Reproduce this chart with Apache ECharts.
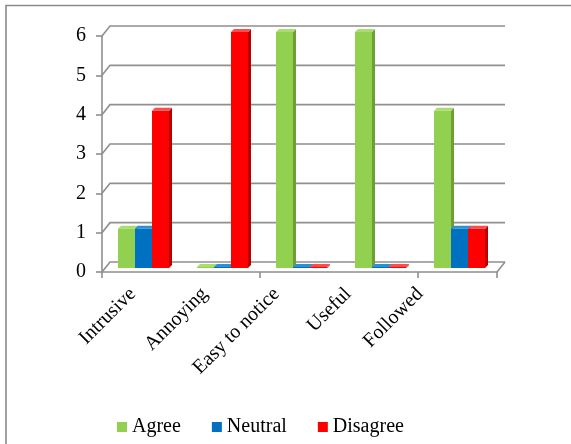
<!DOCTYPE html>
<html>
<head>
<meta charset="utf-8">
<script src="https://cdn.jsdelivr.net/npm/echarts@6/dist/echarts.min.js"></script>
<style>
  html, body { margin: 0; padding: 0; background: #fff; }
  #chart { width: 571px; height: 444px; }
</style>
</head>
<body>
<div id="chart"></div>
<script>
// Survey responses per statement
const categories = ['Intrusive', 'Annoying', 'Easy to notice', 'Useful', 'Followed'];
const seriesNames = ['Agree', 'Neutral', 'Disagree'];
const agree    = [1, 0, 6, 6, 4];
const neutral  = [1, 0, 0, 0, 1];
const disagree = [4, 6, 0, 0, 1];
const yTicks   = [0, 1, 2, 3, 4, 5, 6];

const serif = '"Liberation Serif", "Times New Roman", serif';
const gridColor = '#8f8f8f';

// pseudo-3D geometry
const DEPTH_X = 8, DEPTH_Y = 10;   // back wall offset from the front axes
const MID_X = 2, MID_Y = 4;        // bars stand halfway into the depth
const BAR_W = 17, BAR_D = 3;       // bar face width and its own thickness

const palettes = [
  { face: '#92D050', side: '#6e9e36', top: '#a9dd70' },
  { face: '#0070C0', side: '#004f8a', top: '#2f8fd4' },
  { face: '#FF0000', side: '#b80000', top: '#ff4d4d' }
];

// back wall: one slanted stub + horizontal gridline per tick, plus the floor edge
function renderWall(params, api) {
  const cs = params.coordSys;
  const v = api.value(1);
  const y = api.coord([0, v])[1];
  const x0 = cs.x, x1 = cs.x + cs.width;
  const style = { stroke: gridColor, lineWidth: 1.6, fill: null };
  const children = [{
    type: 'polyline',
    shape: { points: [[x0, y], [x0 + DEPTH_X, y - DEPTH_Y], [x1 + DEPTH_X, y - DEPTH_Y]] },
    style: style
  }];
  if (v === 0) {
    children.push({
      type: 'line',
      shape: { x1: x1, y1: y, x2: x1 + DEPTH_X, y2: y - DEPTH_Y },
      style: style
    });
  }
  return { type: 'group', children: children };
}

// a bar with a front face, a shaded right side and a lit top
function makeBarRenderer(k) {
  const pal = palettes[k];
  return function (params, api) {
    const idx = api.value(0);
    const val = api.value(1);
    const top = api.coord([idx, val]);
    const base = api.coord([idx, 0]);
    const x = top[0] + MID_X + (k - 1) * BAR_W - BAR_W / 2;
    const yTop = top[1] - MID_Y;
    const yBot = base[1] - MID_Y;
    const h = Math.max(yBot - yTop, 1);
    const yT = yBot - h;
    return {
      type: 'group',
      children: [
        { type: 'rect', shape: { x: x, y: yT, width: BAR_W, height: h }, style: { fill: pal.face } },
        { type: 'polygon', shape: { points: [[x + BAR_W, yT], [x + BAR_W + BAR_D, yT - BAR_D], [x + BAR_W + BAR_D, yBot - BAR_D], [x + BAR_W, yBot]] }, style: { fill: pal.side } },
        { type: 'polygon', shape: { points: [[x, yT], [x + BAR_D, yT - BAR_D], [x + BAR_W + BAR_D, yT - BAR_D], [x + BAR_W, yT]] }, style: { fill: pal.top } }
      ]
    };
  };
}

const values = [agree, neutral, disagree];

const chart = echarts.init(document.getElementById('chart'), null, { renderer: 'canvas' });

chart.setOption({
  animation: false,
  backgroundColor: '#fff',
  graphic: [
    { type: 'polyline', shape: { points: [[6, 444], [6, 5.5], [571, 5.5]] }, style: { stroke: '#8a8a8a', lineWidth: 1.6, fill: null }, silent: true }
  ],
  grid: [
    { left: 102, right: 74, top: 36, bottom: 172 },
    // category labels sit on a slightly narrower band (perspective foreshortening)
    { left: 97, right: 115, top: 36, bottom: 172 }
  ],
  legend: {
    data: seriesNames,
    left: 112,
    bottom: 2,
    icon: 'rect',
    itemWidth: 10,
    itemHeight: 10,
    itemGap: 31,
    textStyle: { fontFamily: serif, fontSize: 20, color: '#000' }
  },
  xAxis: [
    {
      type: 'category',
      gridIndex: 0,
      data: categories,
      axisLine: { show: true, lineStyle: { color: gridColor, width: 1.6 } },
      axisTick: { show: true, length: 6, lineStyle: { color: gridColor, width: 1.6 } },
      axisLabel: { show: false },
      splitLine: { show: false }
    },
    {
      type: 'category',
      gridIndex: 1,
      data: categories,
      axisLine: { show: false },
      axisTick: { show: false },
      splitLine: { show: false },
      axisLabel: {
        interval: 0,
        rotate: 45,
        margin: 19,
        fontFamily: serif,
        fontSize: 20,
        color: '#000'
      }
    }
  ],
  yAxis: [
    {
      type: 'value',
      gridIndex: 0,
      min: 0,
      max: 6,
      interval: 1,
      axisLine: { show: true, lineStyle: { color: gridColor, width: 1.6 } },
      axisTick: { show: true, length: 6, lineStyle: { color: gridColor, width: 1.6 } },
      axisLabel: { margin: 16, fontFamily: serif, fontSize: 20, color: '#000' },
      splitLine: { show: false }
    },
    { type: 'value', gridIndex: 1, min: 0, max: 6, show: false }
  ],
  series: [
    {
      type: 'custom',
      name: 'wall',
      xAxisIndex: 0,
      yAxisIndex: 0,
      z: 1,
      silent: true,
      renderItem: renderWall,
      data: yTicks.map(function (v) { return [0, v]; }),
      encode: { x: 0, y: 1 }
    }
  ].concat(seriesNames.map(function (name, k) {
    return {
      type: 'custom',
      name: name,
      xAxisIndex: 0,
      yAxisIndex: 0,
      z: 2,
      itemStyle: { color: palettes[k].face },
      renderItem: makeBarRenderer(k),
      data: values[k].map(function (v, i) { return [i, v]; }),
      encode: { x: 0, y: 1 }
    };
  }))
});
</script>
</body>
</html>
